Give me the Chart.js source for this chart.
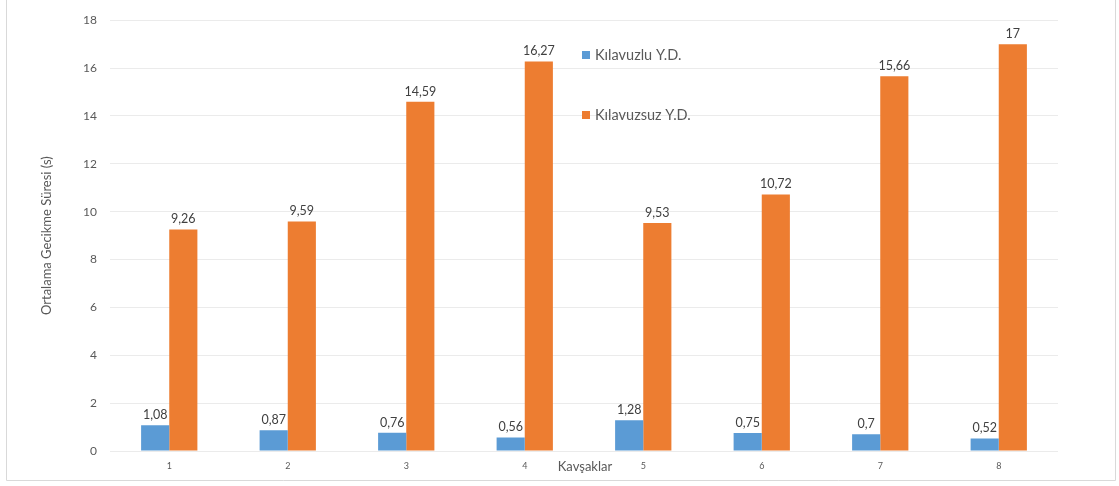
<!DOCTYPE html>
<html>
<head>
<meta charset="utf-8">
<script src="https://cdn.jsdelivr.net/npm/chart.js@4.4.1/dist/chart.umd.min.js"></script>
<style>
  html, body { margin: 0; padding: 0; background: #ffffff; }
  #wrap { width: 1119px; height: 486px; position: relative; }
</style>
</head>
<body>
<div id="wrap"><canvas id="c" width="1119" height="486"></canvas></div>
<script>
// Kavşak numaraları ve ortalama gecikme süreleri (s)
const categories = ['1', '2', '3', '4', '5', '6', '7', '8'];
const kilavuzlu = [1.08, 0.87, 0.76, 0.56, 1.28, 0.75, 0.7, 0.52];
const kilavuzsuz = [9.26, 9.59, 14.59, 16.27, 9.53, 10.72, 15.66, 17];
const yTicks = [0, 2, 4, 6, 8, 10, 12, 14, 16, 18];
const seriesNames = ['Kılavuzlu Y.D.', 'Kılavuzsuz Y.D.'];
const seriesColors = ['#5b9bd5', '#ed7d31'];
const xTitle = 'Kavşaklar';
const yTitle = 'Ortalama Gecikme Süresi (s)';

const FONT = 'Lato, "Open Sans", sans-serif';
const TEXT = '#595959';

function fmt(v) { return String(v).replace('.', ','); }

// Çerçeve, eksen başlıkları, açıklama ve değer etiketleri
const decorPlugin = {
  id: 'decor',
  afterDraw(chart) {
    const ctx = chart.ctx;
    const a = chart.chartArea;
    ctx.save();

    // dış çerçeve
    ctx.strokeStyle = '#d9d9d9';
    ctx.lineWidth = 1;
    ctx.beginPath();
    ctx.moveTo(6.5, 0);
    ctx.lineTo(6.5, 480.5);
    ctx.lineTo(1115.5, 480.5);
    ctx.lineTo(1115.5, 0);
    ctx.stroke();

    // değer etiketleri
    ctx.fillStyle = '#404040';
    ctx.font = '12.5px ' + FONT;
    ctx.textAlign = 'center';
    ctx.textBaseline = 'bottom';
    chart.data.datasets.forEach((ds, i) => {
      const meta = chart.getDatasetMeta(i);
      meta.data.forEach((bar, j) => {
        ctx.fillText(fmt(ds.data[j]), bar.x, bar.y - 4);
      });
    });

    // y ekseni başlığı
    ctx.fillStyle = TEXT;
    ctx.font = '13px ' + FONT;
    ctx.save();
    ctx.translate(47, (a.top + a.bottom) / 2);
    ctx.rotate(-Math.PI / 2);
    ctx.textAlign = 'center';
    ctx.textBaseline = 'middle';
    ctx.fillText(yTitle, 0, 0);
    ctx.restore();

    // x ekseni başlığı
    ctx.font = '13px ' + FONT;
    ctx.textAlign = 'center';
    ctx.textBaseline = 'middle';
    ctx.fillText(xTitle, (a.left + a.right) / 2 + 1, 467);

    // açıklama
    const lx = 582, ly = [55, 115];
    ctx.font = '14.5px ' + FONT;
    ctx.textAlign = 'left';
    seriesNames.forEach((name, i) => {
      ctx.fillStyle = seriesColors[i];
      ctx.fillRect(lx, ly[i] - 4, 8, 8);
      ctx.fillStyle = TEXT;
      ctx.fillText(name, lx + 13, ly[i]);
    });

    ctx.restore();
  }
};

new Chart(document.getElementById('c'), {
  type: 'bar',
  data: {
    labels: categories,
    datasets: [
      { label: seriesNames[0], data: kilavuzlu, backgroundColor: seriesColors[0] },
      { label: seriesNames[1], data: kilavuzsuz, backgroundColor: seriesColors[1] }
    ]
  },
  options: {
    responsive: false,
    animation: false,
    devicePixelRatio: 1,
    layout: { padding: { left: 0, right: 61, top: 20, bottom: 0 } },
    datasets: { bar: { categoryPercentage: 0.475, barPercentage: 1.0 } },
    plugins: { legend: { display: false }, tooltip: { enabled: false } },
    scales: {
      x: {
        grid: { display: false, drawTicks: false },
        border: { display: false },
        ticks: { color: TEXT, font: { family: FONT, size: 9 }, padding: 10 },
        afterFit(scale) { scale.height = 35; }
      },
      y: {
        min: 0,
        max: 18,
        afterBuildTicks(scale) { scale.ticks = yTicks.map(v => ({ value: v })); },
        grid: { color: '#ebebeb', drawTicks: false },
        border: { display: false },
        ticks: { color: TEXT, font: { family: FONT, size: 12 }, padding: 13 },
        afterFit(scale) { scale.width = 110; }
      }
    }
  },
  plugins: [decorPlugin]
});
</script>
</body>
</html>
